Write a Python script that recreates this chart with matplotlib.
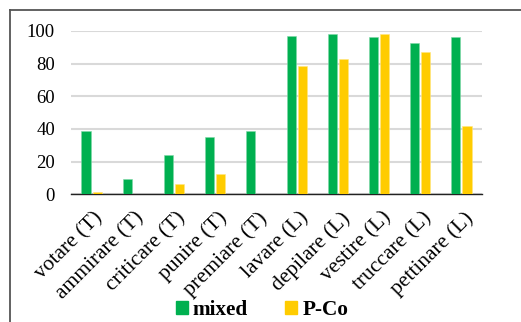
import matplotlib
matplotlib.use("Agg")
import matplotlib.pyplot as plt
import matplotlib.transforms as mtransforms
import numpy as np
from matplotlib.lines import Line2D

categories = ["votare (T)", "ammirare (T)", "criticare (T)", "punire (T)", "premiare (T)",
              "lavare (L)", "depilare (L)", "vestire (L)", "truccare (L)", "pettinare (L)"]
mixed = [39, 9.5, 24, 35, 38.5, 97, 98, 96.3, 92.5, 96.3]
pco = [1.2, 0, 6.5, 12.6, 0, 78.4, 82.6, 98, 87, 42]
series_names = ["mixed", "P-Co"]
yticks = [0, 20, 40, 60, 80, 100]

plt.rcParams['font.family'] = ['Liberation Serif', 'DejaVu Serif']

fig = plt.figure(figsize=(5.21, 3.22), dpi=100)
ax = fig.add_axes([71/521, 1-194.3/322, (482-71)/521, (194.3-31)/322])

x = np.arange(len(categories))
w = 0.22
gap = 0.025
ax.bar(x - w/2 - gap, mixed, w, color="#00B050", edgecolor="#7FD8A7", linewidth=0.4, label=series_names[0], zorder=3)
ax.bar(x + w/2 + gap, pco, w, color="#FFCC00", edgecolor="#FFE680", linewidth=0.4, label=series_names[1], zorder=3)

ax.set_xlim(-0.5, len(categories) - 0.5)
ax.set_ylim(0, 100)
ax.set_yticks(yticks)
ax.set_yticklabels([str(t) for t in yticks], fontsize=13.5)
ax.yaxis.grid(True, color="#D9D9D9", linewidth=1.5, zorder=0)
ax.set_axisbelow(True)
for s in ["top", "right", "left"]:
    ax.spines[s].set_visible(False)
ax.spines["bottom"].set_color("#222222")
ax.spines["bottom"].set_linewidth(1.0)
ax.spines["bottom"].set_zorder(2)
ax.tick_params(axis="y", length=0, pad=11.5)
ax.tick_params(axis="x", length=0, pad=10)
ax.set_xticks(x)
ax.set_xticklabels(categories, rotation=45, ha="right", rotation_mode="anchor", fontsize=15.5)
offset = mtransforms.ScaledTranslation(2/100, 0, fig.dpi_scale_trans)
for lbl in ax.get_xticklabels():
    lbl.set_transform(lbl.get_transform() + offset)

# outer frame (top and left visible)
fig.add_artist(Line2D([10/521, 1.0], [1-9.5/322, 1-9.5/322], transform=fig.transFigure, color="#555555", linewidth=1.3))
fig.add_artist(Line2D([10/521, 10/521], [0, 1-9.5/322], transform=fig.transFigure, color="#555555", linewidth=1.3))

handles = [plt.Rectangle((0, 0), 1, 1, color="#00B050"), plt.Rectangle((0, 0), 1, 1, color="#FFCC00")]
fig.legend(handles, series_names, loc="center", bbox_to_anchor=(262/521, 1-310/322), ncol=2, frameon=False,
           prop={"weight": "bold", "size": 15.3}, handlelength=0.55, handleheight=0.55, handletextpad=0.25,
           columnspacing=1.75, borderaxespad=0, borderpad=0)

fig.savefig("out.png", dpi=100)
